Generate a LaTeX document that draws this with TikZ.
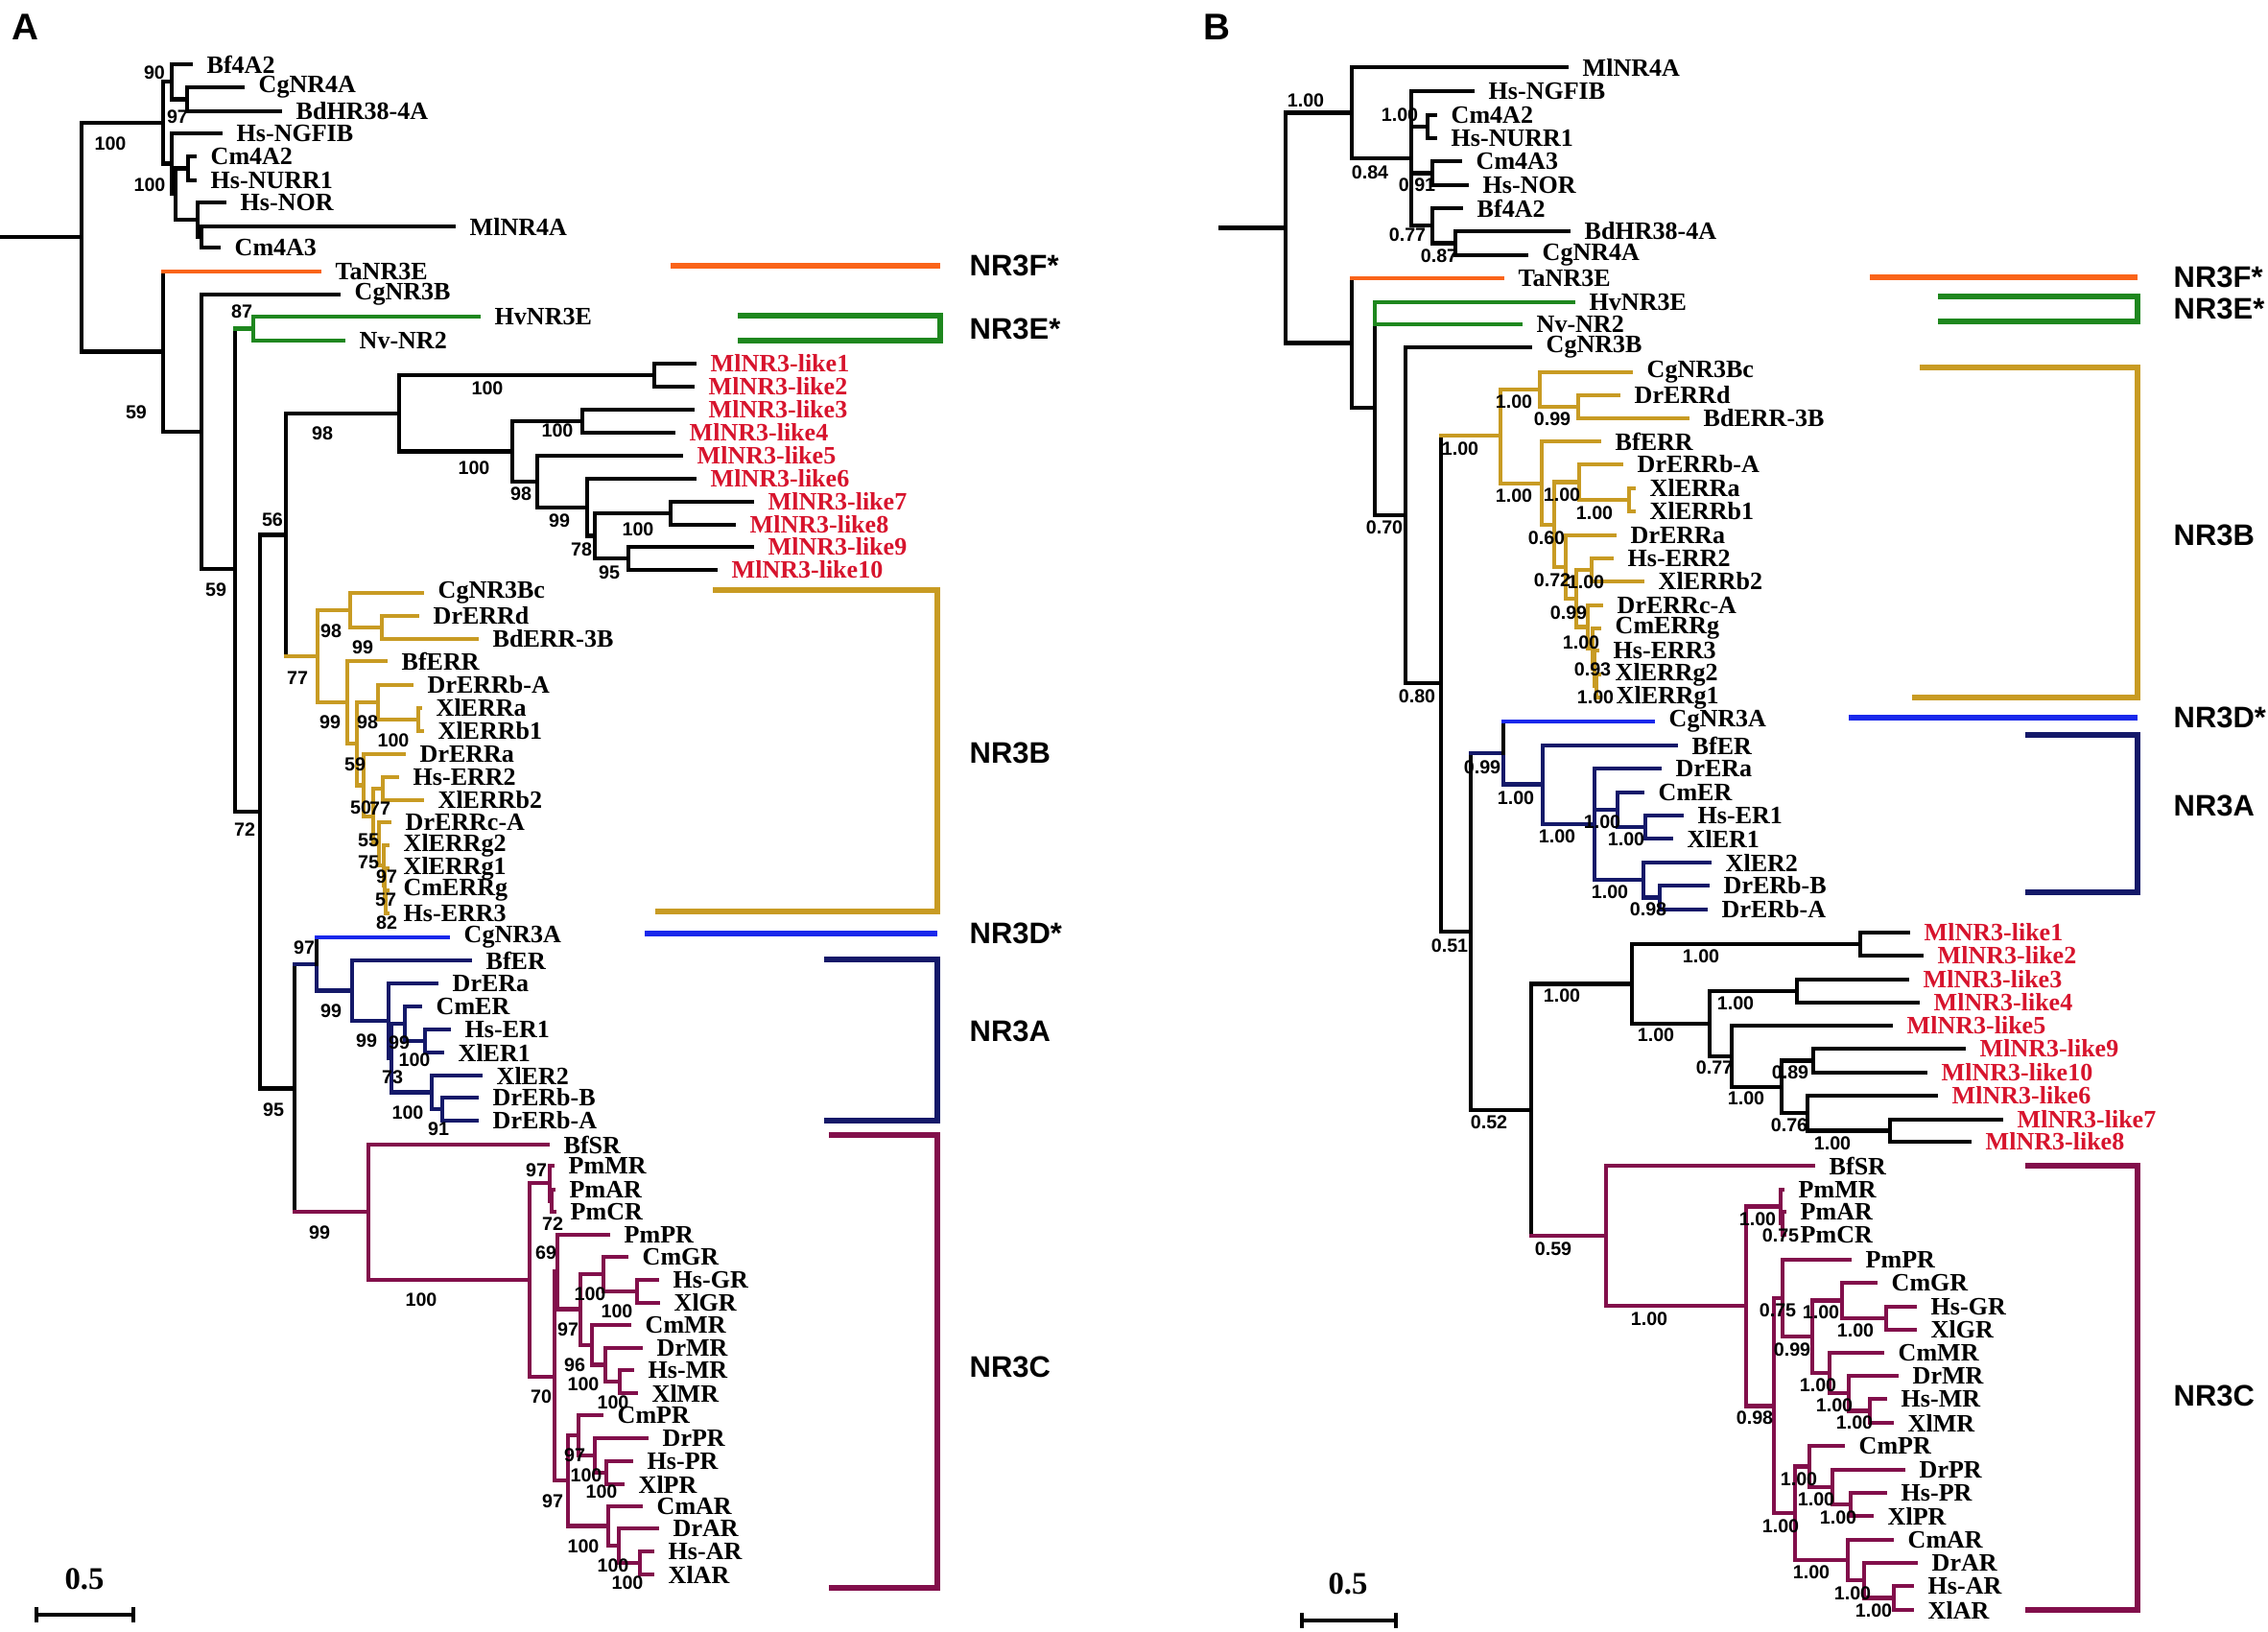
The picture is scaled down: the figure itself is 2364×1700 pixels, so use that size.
\documentclass[tikz,border=0pt]{standalone}
\usepackage{fontspec}
\setmainfont{Liberation Serif}
\newfontfamily\supfont{Liberation Sans}
\definecolor{nrorange}{RGB}{250,100,25}
\definecolor{nrgreen}{RGB}{30,135,30}
\definecolor{nrgold}{RGB}{200,155,35}
\definecolor{nrblue}{RGB}{25,40,235}
\definecolor{nrnavy}{RGB}{20,25,105}
\definecolor{nrmaroon}{RGB}{130,15,75}
\definecolor{nrred}{RGB}{215,20,45}
\pgfdeclarelayer{branches}
\pgfsetlayers{branches,main}
% stem of a coloured clade: vertical part black, horizontal part in clade colour
\newcommand\clstem[3]{\draw[br] (#1) -- (#1 |- #2); \draw[br,#3] (#1 |- #2) -- (#2);}

\begin{document}
\begin{tikzpicture}[x=0.01cm,y=-0.01cm,
    br/.style={line width=1.3pt,line cap=rect},
    bkt/.style={line width=1.6pt},
    leaf/.style={anchor=west,inner sep=0pt,xshift=0.16cm,font=\bfseries\fontsize{7.4}{8}\selectfont},
    bs/.style={inner sep=0pt,font=\supfont\bfseries\fontsize{5.6}{6}\selectfont},
    clade/.style={anchor=west,inner sep=0pt,font=\supfont\bfseries\fontsize{8.8}{10}\selectfont},
    panel/.style={inner sep=0pt,font=\supfont\bfseries\fontsize{11}{12}\selectfont}
    ]
    \useasboundingbox (0,0) rectangle (2364,1700);

    % ---------------- panel A ----------------
    \node[panel] (pA) at (26,28) {A};
    \foreach \t/\x/\y in {Bf4A2/199/67,CgNR4A/253/91,BdHR38-4A/292/116,Hs-NGFIB/230/139,
      Cm4A2/203/163,Hs-NURR1/203/188,Hs-NOR/234/211,MlNR4A/473/236,Cm4A3/228/258,
      TaNR3E/333/283,CgNR3B/353/307,HvNR3E/499/330,Nv-NR2/358/355,
      CgNR3Bc/440/618,DrERRd/435/642,BdERR-3B/497/666,BfERR/402/689,DrERRb-A/429/714,
      XlERRa/438/738,XlERRb1/440/762,DrERRa/421/786,Hs-ERR2/414/810,XlERRb2/440/834,
      DrERRc-A/406/857,XlERRg2/404/881,XlERRg1/404/905,CmERRg/404/928,Hs-ERR3/404/952,
      CgNR3A/467/977,BfER/490/1001,DrERa/455/1025,CmER/438/1049,Hs-ER1/468/1073,
      XlER1/461/1097,XlER2/501/1121,DrERb-B/497/1144,DrERb-A/497/1168,
      BfSR/571/1193,PmMR/576/1215,PmAR/577/1240,PmCR/578/1263,PmPR/634/1287,
      CmGR/653/1310,Hs-GR/685/1334,XlGR/686/1358,CmMR/656/1381,DrMR/668/1405,
      Hs-MR/659/1428,XlMR/663/1452,CmPR/627/1475,DrPR/674/1499,Hs-PR/658/1523,
      XlPR/649/1547,CmAR/668/1570,DrAR/685/1593,Hs-AR/680/1617,XlAR/680/1641} {
      \coordinate (a\t) at (\x,\y);
      \node[leaf] (a\t-l) at (a\t) {\t};
    }
    \foreach \k/\x/\y in {1/724/379,2/722/403,3/722/427,4/702/451,5/710/475,
      6/724/499,7/784/523,8/765/547,9/784/570,10/746/594} {
      \coordinate (aML\k) at (\x,\y);
      \node[leaf,text=nrred] (aML\k-l) at (aML\k) {MlNR3-like\k};
    }
    \foreach \n/\x/\y in {aR0/2/247,aR/85/247,aX/179/170.5,aNU/196/175.5,aZ/206/229,
      aW/210/247,aC/210/450}
      \coordinate (\n) at (\x,\y);
    \foreach \n/\x/\y/\v/\lx/\ly in {aN4/170/128/100/115/150,a90/179/85/90/161/76,
      a97/195/103.5/97/185/122,aY/183/202/100/156/193,aT/170/366.5/59/142/430,
      a59/245/593/59/225/615,aG/264/342.5/87/252/325,a72/271/846/72/255/865,
      a56/298/557.5/56/284/542,a95/307/1134.5/95/285/1157,
      aM1/416/431/98/336/452,aM2/682/391/100/508/405,aM3/534/470.5/100/494/488,
      aM4/607/439/100/581/449,aM5/560/502/98/543/515,aM6/612/529/99/583/543,
      aM7/620/558.5/78/606/573,aM8/699/535/100/665/552,aM9/655/582/95/635/597,
      aG1/331/684/77/310/707,aG2/365/636/98/345/658,aG3/398/654/99/378/675,
      aG4/362/732/99/344/753,aG5/372/775/59/370/797,aG6/394/732/98/383/753,
      aG7/436/750/100/410/772,aG8/379/818.5/50/376/842,aG9/389/851/55/384/876,
      aG10/399/822/77/396/843,aG11/395/879.5/75/384/899,aG12/400/902/97/403/914,
      aG13/401/922.5/57/402/938,aG14/402/940/82/403/962,
      aE1/330/1005/97/317/988,aE2/367/1032.5/99/345/1054,aE3/405/1064/99/382/1085,
      aE3b/408/1103/73/409/1123,aE4/422/1067/99/416/1087,aE5/443/1085/100/432/1105,
      aE6/450/1138.5/100/425/1160,aE7/461/1156/91/457/1177,
      aS1/384/1263/99/333/1285,aS2/552/1334/100/439/1355,aS3/573/1233/97/559/1220,
      aS3b/575/1251.5/72/576/1276,aS4/578/1435/70/564/1456,aS5/581/1325/69/569/1306,
      aS6/605/1364.5/97/592/1386,aS7/629/1328/100/615/1349,aS8/664/1346/100/643/1367,
      aS9/617/1402/96/599/1423,aS10/631/1422.5/100/608/1443,aS11/646/1440/100/639/1462,
      aS12/592/1543/97/576/1565,aS13/603/1496/97/599/1517,aS14/620/1517/100/611/1538,
      aS15/632/1535/100/627/1555,aS16/634/1590.5/100/608/1612,aS17/645/1611/100/639/1632,
      aS18/667/1629/100/654/1650} {
      \coordinate (\n) at (\x,\y);
      \node[bs] (\n-s) at (\lx,\ly) {\v};
    }

    % ---------------- panel B ----------------
    \node[panel] (pB) at (1268,28) {B};
    \foreach \t/\x/\y in {MlNR4A/1633/70,Hs-NGFIB/1535/95,Cm4A2/1496/120,
      Hs-NURR1/1496/144,Cm4A3/1522/168,Hs-NOR/1529/193,Bf4A2/1523/217,
      BdHR38-4A/1635/241,CgNR4A/1591/266,TaNR3E/1566/290,HvNR3E/1640/315,
      Nv-NR2/1585/338,CgNR3B/1595/362,
      CgNR3Bc/1700/388,DrERRd/1687/412,BdERR-3B/1759/436,BfERR/1667/460,
      DrERRb-A/1690/484,XlERRa/1703/509,XlERRb1/1703/533,DrERRa/1683/558,
      Hs-ERR2/1680/582,XlERRb2/1712/606,DrERRc-A/1669/631,CmERRg/1667/655,
      Hs-ERR3/1665/678,XlERRg2/1667/703,XlERRg1/1668/727,
      CgNR3A/1723/752,BfER/1747/777,DrERa/1730/801,CmER/1712/826,Hs-ER1/1753/850,
      XlER1/1742/874,XlER2/1782/899,DrERb-B/1780/923,DrERb-A/1778/948,
      BfSR/1890/1215,PmMR/1858/1240,PmAR/1860/1263,PmCR/1860/1287,PmPR/1928/1313,
      CmGR/1955/1337,Hs-GR/1996/1362,XlGR/1996/1386,CmMR/1962/1410,DrMR/1977/1434,
      Hs-MR/1965/1458,XlMR/1972/1483,CmPR/1921/1507,DrPR/1984/1532,Hs-PR/1965/1556,
      XlPR/1951/1580,CmAR/1972/1605,DrAR/1997/1629,Hs-AR/1993/1653,XlAR/1993/1678} {
      \coordinate (b\t) at (\x,\y);
      \node[leaf] (b\t-l) at (b\t) {\t};
    }
    \foreach \k/\x/\y in {1/1989/972,2/2003/996,3/1988/1021,4/1999/1045,5/1971/1069,
      9/2047/1093,10/2007/1118,6/2018/1142,7/2086/1167,8/2053/1190} {
      \coordinate (bML\k) at (\x,\y);
      \node[leaf,text=nrred] (bML\k-l) at (bML\k) {MlNR3-like\k};
    }
    \foreach \n/\x/\y in {bR0/1272/237.5,bR/1340/237.5,bT/1409/357.5,bT2/1433/425,
      bGv/1433/326.5,bRg3/1664/715}
      \coordinate (\n) at (\x,\y);
    \foreach \n/\x/\y/\v/\lx/\ly in {bN4/1409/117.5/1.00/1361/105,
      bB2/1471/165/0.84/1428/180,bB3/1488/132/1.00/1459/120,bB4/1493/180.5/0.91/1477/193,
      bB5/1493/235/0.77/1467/245,bB6/1517/253.5/0.87/1500/267,
      bT3/1465/537/0.70/1443/550,bT4/1502/712/0.80/1477/726,
      bR1/1564/454/1.00/1522/468,bR2/1605/406/1.00/1578/419,bR3/1645/424/0.99/1618/437,
      bR4/1607/504/1.00/1578/517,bR5/1620/547/0.60/1612/561,bR6/1646/502.5/1.00/1628/516,
      bR7/1698/521/1.00/1662/535,bR8/1632/591/0.72/1618/605,bR9/1643/624/0.99/1635/639,
      bR10/1659/594/1.00/1653/607,bRg0/1655/653.5/1.00/1648/670,
      bRg1/1660/676/0.93/1660/698,bRg2/1662/696.5/1.00/1663/727,
      bT5/1533/971/0.51/1511/986,
      bE1/1567/785/0.99/1545/800,bE2/1608/817.5/1.00/1580/832,bE3/1662/859/1.00/1623/872,
      bE4/1686/844/1.00/1670/857,bE5/1715/862/1.00/1695/875,bE6/1713/917/1.00/1678/930,
      bE7/1730/935.5/0.98/1718/948,
      bT6/1596/1157/0.52/1552/1170,
      bM1/1701/1025.5/1.00/1628/1038,bM2/1939/984/1.00/1773/997,
      bM3/1782/1067/1.00/1726/1079,bM4/1873/1033/1.00/1809/1046,
      bM5/1805/1101/0.77/1787/1113,bM6/1857/1133/1.00/1820/1145,
      bM7/1890/1105.5/0.89/1866/1118,bM8/1884/1160/0.76/1865/1173,
      bM9/1970/1178.5/1.00/1910/1192,
      bS1/1674/1288/0.59/1619/1302,bS2/1820/1361/1.00/1719/1375,
      bS3/1856/1257.5/1.00/1832/1271,bS3b/1858/1275/0.75/1856/1288,
      bS4/1849/1465.5/0.98/1829/1478,bS5/1858/1353/0.75/1853/1366,
      bS6/1889/1393/0.99/1868/1407,bS7/1920/1355.5/1.00/1898/1368,
      bS8/1966/1374/1.00/1934/1387,bS9/1907/1431/1.00/1895/1444,
      bS10/1927/1452/1.00/1912/1465,bS11/1949/1470.5/1.00/1933/1483,
      bS12/1871/1577/1.00/1856/1591,bS13/1886/1528.5/1.00/1875/1542,
      bS14/1910/1550/1.00/1893/1563,bS15/1929/1568/1.00/1916/1582,
      bS16/1926/1626/1.00/1888/1639,bS17/1943/1647/1.00/1931/1661,
      bS18/1974/1665.5/1.00/1953/1679} {
      \coordinate (\n) at (\x,\y);
      \node[bs] (\n-s) at (\lx,\ly) {\v};
    }

    % branches go under the support values
    \begin{pgfonlayer}{branches}
    \foreach \u/\v in {aR0/aR,aR/aN4,aR/aT,aN4/a90,aN4/aX,a90/aBf4A2,a90/a97,
      a97/aCgNR4A,a97/aBdHR38-4A,aX/aHs-NGFIB,aX/aY,aY/aNU,aY/aZ,aNU/aCm4A2,
      aNU/aHs-NURR1,aZ/aHs-NOR,aZ/aW,aW/aMlNR4A,aW/aCm4A3,aT/aC,aC/aCgNR3B,aC/a59,
      a59/a72,a72/a56,a72/a95,a56/aM1,aM1/aM2,aM1/aM3,aM2/aML1,aM2/aML2,aM3/aM4,
      aM3/aM5,aM4/aML3,aM4/aML4,aM5/aML5,aM5/aM6,aM6/aML6,aM6/aM7,aM7/aM8,aM7/aM9,
      aM8/aML7,aM8/aML8,aM9/aML9,aM9/aML10}
      \draw[br] (\u) |- (\v);
    \foreach \u/\v in {aG/aHvNR3E,aG/aNv-NR2}
      \draw[br,nrgreen] (\u) |- (\v);
    \foreach \u/\v in {aG1/aG2,aG1/aG4,aG2/aCgNR3Bc,aG2/aG3,aG3/aDrERRd,aG3/aBdERR-3B,
      aG4/aBfERR,aG4/aG5,aG5/aG6,aG5/aG8,aG6/aDrERRb-A,aG6/aG7,aG7/aXlERRa,
      aG7/aXlERRb1,aG8/aDrERRa,aG8/aG9,aG9/aG10,aG9/aG11,aG10/aHs-ERR2,aG10/aXlERRb2,
      aG11/aDrERRc-A,aG11/aG12,aG12/aXlERRg2,aG12/aG13,aG13/aXlERRg1,aG13/aG14,
      aG14/aCmERRg,aG14/aHs-ERR3}
      \draw[br,nrgold] (\u) |- (\v);
    \foreach \u/\v in {aE1/aE2,aE2/aBfER,aE2/aE3,aE3/aDrERa,aE3/aE3b,aE3b/aE4,aE3b/aE6,
      aE4/aCmER,aE4/aE5,aE5/aHs-ER1,aE5/aXlER1,aE6/aXlER2,aE6/aE7,aE7/aDrERb-B,
      aE7/aDrERb-A}
      \draw[br,nrnavy] (\u) |- (\v);
    \clstem{aT}{aTaNR3E}{nrorange}
    \clstem{a59}{aG}{nrgreen}
    \clstem{a56}{aG1}{nrgold}
    \clstem{a95}{aE1}{nrnavy}
    \clstem{a95}{aS1}{nrmaroon}
    \clstem{aE1}{aCgNR3A}{nrblue}

    \foreach \u/\v in {bR0/bR,bR/bN4,bR/bT,bN4/bMlNR4A,bN4/bB2,bB2/bHs-NGFIB,bB2/bB3,
      bB2/bB4,bB2/bB5,bB3/bCm4A2,bB3/bHs-NURR1,bB4/bCm4A3,bB4/bHs-NOR,bB5/bBf4A2,
      bB5/bB6,bB6/bBdHR38-4A,bB6/bCgNR4A,bT/bT2,bT2/bGv,bT2/bT3,bT3/bCgNR3B,bT3/bT4,
      bT4/bT5,bT5/bT6,bT6/bM1,bM1/bM2,bM1/bM3,bM2/bML1,bM2/bML2,bM3/bM4,bM3/bM5,
      bM4/bML3,bM4/bML4,bM5/bML5,bM5/bM6,bM6/bM7,bM6/bM8,bM7/bML9,bM7/bML10,
      bM8/bML6,bM8/bM9,bM9/bML7,bM9/bML8}
      \draw[br] (\u) |- (\v);
    \foreach \u/\v in {bGv/bHvNR3E,bGv/bNv-NR2}
      \draw[br,nrgreen] (\u) |- (\v);
    \foreach \u/\v in {bR1/bR2,bR1/bR4,bR2/bCgNR3Bc,bR2/bR3,bR3/bDrERRd,bR3/bBdERR-3B,
      bR4/bBfERR,bR4/bR5,bR5/bR6,bR5/bR8,bR6/bDrERRb-A,bR6/bR7,bR7/bXlERRa,
      bR7/bXlERRb1,bR8/bDrERRa,bR8/bR9,bR9/bR10,bR9/bRg0,bR10/bHs-ERR2,bR10/bXlERRb2,
      bRg0/bDrERRc-A,bRg0/bRg1,bRg1/bCmERRg,bRg1/bRg2,bRg2/bHs-ERR3,bRg2/bRg3,
      bRg3/bXlERRg2,bRg3/bXlERRg1}
      \draw[br,nrgold] (\u) |- (\v);
    \foreach \u/\v in {bE1/bE2,bE2/bBfER,bE2/bE3,bE3/bDrERa,bE3/bE4,bE3/bE6,bE4/bCmER,
      bE4/bE5,bE5/bHs-ER1,bE5/bXlER1,bE6/bXlER2,bE6/bE7,bE7/bDrERb-B,bE7/bDrERb-A}
      \draw[br,nrnavy] (\u) |- (\v);
    \clstem{bT}{bTaNR3E}{nrorange}
    \clstem{bT4}{bR1}{nrgold}
    \clstem{bT5}{bE1}{nrnavy}
    \clstem{bT6}{bS1}{nrmaroon}
    \clstem{bE1}{bCgNR3A}{nrblue}

    % steroid receptors, same topology in both panels
    \foreach \p in {a,b} {
      \foreach \u/\v in {S1/BfSR,S1/S2,S2/S3,S2/S4,S3/PmMR,S3/S3b,S3b/PmAR,S3b/PmCR,
        S4/S5,S4/S12,S5/PmPR,S5/S6,S6/S7,S6/S9,S7/CmGR,S7/S8,S8/Hs-GR,S8/XlGR,
        S9/CmMR,S9/S10,S10/DrMR,S10/S11,S11/Hs-MR,S11/XlMR,S12/S13,S12/S16,
        S13/CmPR,S13/S14,S14/DrPR,S14/S15,S15/Hs-PR,S15/XlPR,S16/CmAR,S16/S17,
        S17/DrAR,S17/S18,S18/Hs-AR,S18/XlAR}
        \draw[br,nrmaroon] (\p\u) |- (\p\v);
    }
    \end{pgfonlayer}

    % clade brackets
    \draw[bkt,nrorange] (699,277) -- (980,277);
    \draw[bkt,nrgreen] (769,329) -- (980,329) -- (980,355) -- (769,355);
    \draw[bkt,nrgold] (743,615) -- (977,615) -- (977,950) -- (683,950);
    \draw[bkt,nrblue] (672,973) -- (977,973);
    \draw[bkt,nrnavy] (859,1000) -- (977,1000) -- (977,1168) -- (859,1168);
    \draw[bkt,nrmaroon] (864,1183) -- (977,1183) -- (977,1655) -- (864,1655);
    \node[clade] (aNR3F) at (1010,277) {NR3F*};
    \node[clade] (aNR3E) at (1010,343) {NR3E*};
    \node[clade] (aNR3B) at (1010,785) {NR3B};
    \node[clade] (aNR3D) at (1010,973) {NR3D*};
    \node[clade] (aNR3A) at (1010,1075) {NR3A};
    \node[clade] (aNR3C) at (1010,1425) {NR3C};

    \draw[bkt,nrorange] (1949,289) -- (2228,289);
    \draw[bkt,nrgreen] (2020,309) -- (2228,309) -- (2228,335) -- (2020,335);
    \draw[bkt,nrgold] (2001,383) -- (2228,383) -- (2228,727) -- (1993,727);
    \draw[bkt,nrblue] (1927,748) -- (2228,748);
    \draw[bkt,nrnavy] (2111,766) -- (2228,766) -- (2228,930) -- (2111,930);
    \draw[bkt,nrmaroon] (2111,1215) -- (2228,1215) -- (2228,1678) -- (2111,1678);
    \node[clade] (bNR3F) at (2265,289) {NR3F*};
    \node[clade] (bNR3E) at (2265,322) {NR3E*};
    \node[clade] (bNR3B) at (2265,558) {NR3B};
    \node[clade] (bNR3D) at (2265,748) {NR3D*};
    \node[clade] (bNR3A) at (2265,840) {NR3A};
    \node[clade] (bNR3C) at (2265,1455) {NR3C};

    % scale bars
    \draw[br,line cap=butt] (38,1675) -- (38,1691) (38,1683) -- (139,1683) (139,1675) -- (139,1691);
    \node[font=\bfseries\fontsize{9.3}{10}\selectfont,inner sep=0pt] (aScale) at (88,1646) {0.5};
    \draw[br,line cap=butt] (1357,1681) -- (1357,1697) (1357,1689) -- (1455,1689) (1455,1681) -- (1455,1697);
    \node[font=\bfseries\fontsize{9.3}{10}\selectfont,inner sep=0pt] (bScale) at (1405,1651) {0.5};
\end{tikzpicture}
\end{document}
